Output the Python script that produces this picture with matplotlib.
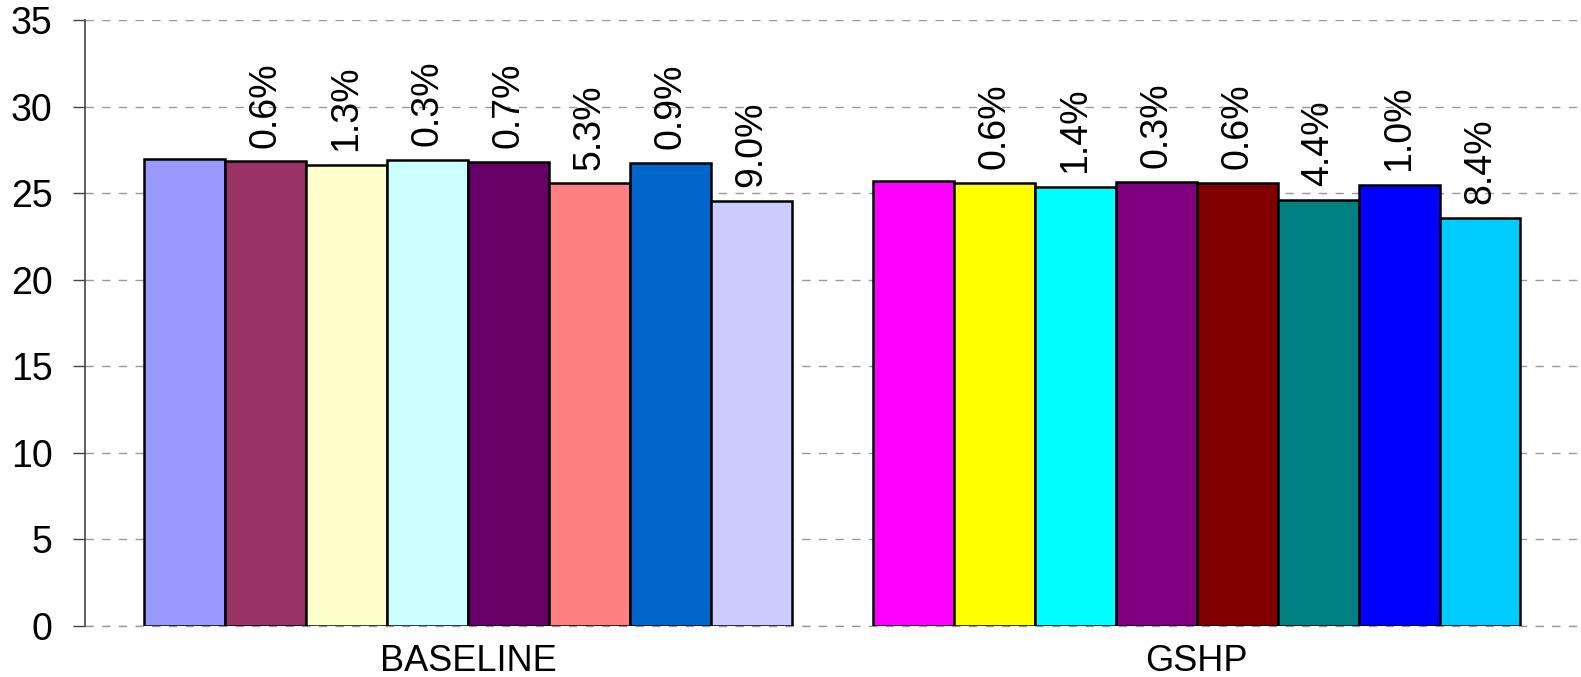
import numpy as np
import matplotlib.pyplot as plt

plt.rcParams['font.family'] = ['Liberation Sans', 'DejaVu Sans']

# data
groups = ['BASELINE', 'GSHP']
baseline_vals = [27.0, 26.84, 26.65, 26.92, 26.81, 25.57, 26.76, 24.57]
gshp_vals = [25.73, 25.58, 25.37, 25.65, 25.58, 24.60, 25.47, 23.57]
baseline_labels = ['', '0.6%', '1.3%', '0.3%', '0.7%', '5.3%', '0.9%', '9.0%']
gshp_labels = ['', '0.6%', '1.4%', '0.3%', '0.6%', '4.4%', '1.0%', '8.4%']
baseline_colors = ['#9999FF', '#993366', '#FFFFCC', '#CCFFFF',
                   '#660066', '#FF8080', '#0066CC', '#CCCCFF']
gshp_colors = ['#FF00FF', '#FFFF00', '#00FFFF', '#800080',
               '#800000', '#008080', '#0000FF', '#00CCFF']

fig = plt.figure(figsize=(15.81, 6.77), dpi=100)
ax = fig.add_axes([0.0536, 0.076, 0.9464, 0.894])

n = len(baseline_vals)
width = 0.111
offsets = (np.arange(n) - (n - 1) / 2) * width

for gi, (vals, labels, cols) in enumerate([(baseline_vals, baseline_labels, baseline_colors),
                                           (gshp_vals, gshp_labels, gshp_colors)]):
    xs = gi + offsets
    ax.bar(xs, vals, width=width, color=cols, edgecolor='black',
           linewidth=1.8, zorder=3)
    for x, v, lab in zip(xs, vals, labels):
        if lab:
            ax.text(x, v + 0.8, lab, rotation=90, ha='center', va='bottom',
                    fontsize=27)

ax.set_ylim(0, 35)
ax.set_xlim(-0.5256, 1.527)
ax.set_yticks(range(0, 36, 5))
ax.set_xticks([0, 1])
ax.set_xticklabels(groups, fontsize=26)
ax.tick_params(axis='x', length=0, pad=13)
ax.tick_params(axis='y', labelsize=27, length=9, width=1, color='#444444', pad=14)

ax.yaxis.grid(True, linestyle=(0, (6, 6)), color='#999999', linewidth=1, zorder=0)
ax.set_axisbelow(True)
for s in ['top', 'right', 'bottom']:
    ax.spines[s].set_visible(False)
ax.spines['left'].set_color('#444444')
ax.spines['left'].set_linewidth(1.2)
ax.axhline(0, color='#999999', linestyle=(0, (6, 6)), linewidth=1, zorder=1,
           clip_on=False)

fig.savefig('out.png', dpi=100)
